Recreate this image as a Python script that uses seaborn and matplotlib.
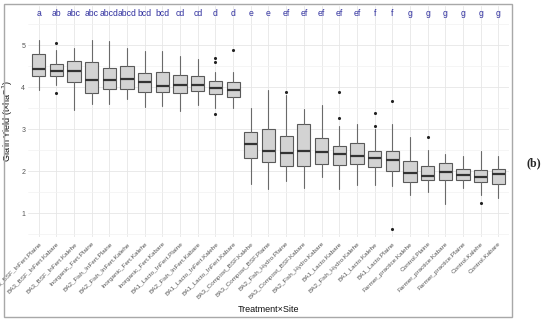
import matplotlib
matplotlib.use("Agg")
import matplotlib.pyplot as plt
import seaborn as sns
import pandas as pd
from matplotlib.patches import Rectangle

groups = [
    "BA3_BSF_InFert.Plaine", "BA3_BSF_InFert.Kabare", "BA3_BSF_InFert.Kalehe",
    "Inorganic_Fert.Plaine", "BA2_Fish_InFert.Plaine", "BA2_Fish_InFert.Kalehe",
    "Inorganic_Fert.Kalehe", "Inorganic_Fert.Kabare", "BA1_Lacto_InFert.Plaine",
    "BA2_Fish_InFert.Kabare", "BA1_Lacto_InFert.Kalehe", "BA1_Lacto_InFert.Kabare",
    "BA3_Compost_BSF.Kalehe", "BA3_Compost_BSF.Plaine", "BA2_Fish_Hydro.Plaine",
    "BA3_Compost_BSF.Kabare", "BA2_Fish_Hydro.Kabare", "BA1_Lacto.Kabare",
    "BA2_Fish_Hydro.Kalehe", "BA1_Lacto.Kalehe", "BA1_Lacto.Plaine",
    "Farmer_practice.Kalehe", "Control.Plaine", "Farmer_practice.Kabare",
    "Farmer_practice.Plaine", "Control.Kalehe", "Control.Kabare",
]
letters = ["a", "ab", "abc", "abc", "abcd", "abcd", "bcd", "bcd", "cd", "cd", "d", "d",
           "e", "e", "ef", "ef", "ef", "ef", "ef", "f", "f",
           "g", "g", "g", "g", "g", "g"]

whis_lo = [3.95, 4.05, 3.46, 3.61, 3.60, 3.72, 3.54, 3.55, 3.44, 3.58, 3.50, 3.52,
           1.71, 1.58, 1.78, 1.61, 1.87, 1.58, 1.67, 1.67, 1.66,
           1.44, 1.50, 1.22, 1.61, 1.45, 1.36]
q1 = [4.27, 4.27, 4.12, 3.86, 3.97, 3.97, 3.90, 3.90, 3.88, 3.92, 3.84, 3.78,
      2.32, 2.22, 2.13, 2.13, 2.17, 2.16, 2.17, 2.10, 2.01,
      1.74, 1.80, 1.80, 1.80, 1.74, 1.71]
med = [4.44, 4.39, 4.39, 4.19, 4.17, 4.21, 4.12, 4.03, 4.05, 4.05, 3.99, 3.94,
       2.66, 2.49, 2.44, 2.48, 2.47, 2.42, 2.36, 2.33, 2.27,
       1.97, 1.89, 1.98, 1.92, 1.87, 1.94]
q3 = [4.79, 4.55, 4.64, 4.61, 4.47, 4.51, 4.35, 4.36, 4.29, 4.27, 4.16, 4.13,
      2.94, 3.00, 2.84, 3.13, 2.79, 2.60, 2.67, 2.49, 2.49,
      2.26, 2.14, 2.21, 2.07, 2.04, 2.07]
whis_hi = [5.14, 4.90, 4.93, 5.12, 5.10, 4.94, 4.86, 4.88, 4.76, 4.68, 4.37, 4.37,
           3.52, 3.94, 3.82, 3.48, 3.58, 3.08, 3.13, 3.02, 3.13,
           2.82, 2.50, 2.41, 2.36, 2.48, 2.36]

outlier_group = ["BA3_BSF_InFert.Kabare", "BA3_BSF_InFert.Kabare",
                 "BA1_Lacto_InFert.Kalehe", "BA1_Lacto_InFert.Kalehe", "BA1_Lacto_InFert.Kalehe",
                 "BA1_Lacto_InFert.Kabare", "BA2_Fish_Hydro.Plaine",
                 "BA1_Lacto.Kabare", "BA1_Lacto.Kabare",
                 "BA1_Lacto.Kalehe", "BA1_Lacto.Kalehe",
                 "BA1_Lacto.Plaine", "BA1_Lacto.Plaine",
                 "Control.Plaine", "Control.Kalehe"]
outlier_value = [5.07, 3.86,
                 4.70, 4.61, 3.38,
                 4.89, 3.90,
                 3.90, 3.28,
                 3.40, 3.09,
                 3.68, 0.63,
                 2.82, 1.25]

sns.set_theme(style="whitegrid")
plt.rcParams["font.family"] = ["Liberation Sans", "DejaVu Sans"]

fig = plt.figure(figsize=(5.5, 3.23), dpi=100)
ax = fig.add_axes([28 / 550, 1 - 237 / 323, 481 / 550, 231 / 323])

stats = []
for i in range(len(groups)):
    stats.append({"whislo": whis_lo[i], "q1": q1[i], "med": med[i],
                  "q3": q3[i], "whishi": whis_hi[i], "fliers": []})
ax.bxp(stats, positions=range(len(groups)), widths=0.75, patch_artist=True,
       showfliers=False, showcaps=False,
       boxprops=dict(facecolor="#d3d3d3", edgecolor="#5a5a5a", linewidth=0.8),
       medianprops=dict(color="#333333", linewidth=1.6),
       whiskerprops=dict(color="#6a6a6a", linewidth=0.8))

out = pd.DataFrame({"pos": [groups.index(g) for g in outlier_group], "value": outlier_value})
sns.scatterplot(data=out, x="pos", y="value", color="#222222", s=5, linewidth=0, ax=ax, zorder=5)

for i, lab in enumerate(letters):
    ax.text(i, 5.77, lab, ha="center", va="center", color="#2e2e9e", fontsize=6.2)

ax.set_xlim(-0.6, len(groups) - 0.4)
ax.set_ylim(0.44, 5.94)
ax.set_xticks(range(len(groups)))
ax.set_xticklabels(groups, rotation=45, ha="right", rotation_mode="anchor",
                   fontsize=4.6, color="#555555")
ax.set_yticks([1, 2, 3, 4, 5])
ax.set_yticklabels(["1", "2", "3", "4", "5"], fontsize=5, color="#555555")
ax.set_yticks([0.5, 1.5, 2.5, 3.5, 4.5, 5.5], minor=True)
ax.grid(which="major", color="#e6e6e6", linewidth=0.6)
ax.grid(which="minor", axis="y", color="#f2f2f2", linewidth=0.5)
ax.tick_params(which="both", length=0, pad=2)
ax.tick_params(axis="x", pad=3)
for s in ax.spines.values():
    s.set_visible(False)

ax.set_xlabel("Treatment×Site", fontsize=6.5, color="#111111")
ax.set_ylabel("Grain Yield (t×ha$^{-1}$)", fontsize=6.5, color="#111111")
ax.xaxis.set_label_coords(0.5, -0.295)
ax.yaxis.set_label_coords(-0.026, 0.5)

fig.add_artist(Rectangle((4 / 550, 1 - 317 / 323), 508 / 550, 313 / 323,
                         transform=fig.transFigure, fill=False,
                         edgecolor="#a8a8a8", linewidth=1))
fig.text(534 / 550, 1 - 163 / 323, "(b)", fontfamily="Liberation Serif",
         fontweight="bold", fontsize=8.5, ha="center", va="center")

fig.savefig("out.png", dpi=100)
